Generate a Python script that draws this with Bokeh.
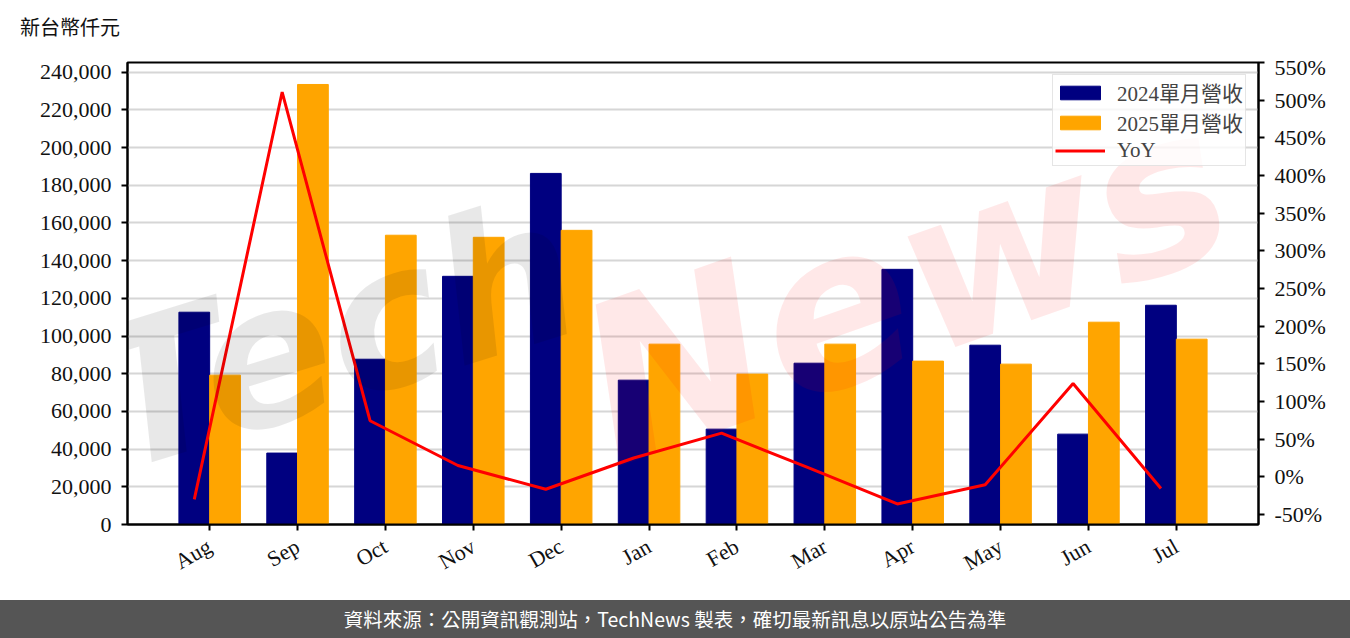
from bokeh.plotting import figure
from bokeh.models import (Range1d, LinearAxis, FixedTicker, NumeralTickFormatter,
                          PrintfTickFormatter, Legend, LegendItem, Label, ColumnDataSource, Div)
from bokeh.layouts import column
from bokeh.embed import file_html
from bokeh.resources import INLINE

months = ["Aug", "Sep", "Oct", "Nov", "Dec", "Jan", "Feb", "Mar", "Apr", "May", "Jun", "Jul"]
rev_2024 = [112650, 37900, 87700, 131700, 186300, 76600, 50600, 85600, 135400, 95150, 47950, 116350]
rev_2025 = [79250, 233500, 153500, 152400, 156100, 95700, 79800, 95700, 86700, 85100, 107350, 98350]
yoy = [-30, 511, 74.5, 15, -16.5, 25, 58, 11.5, -36, -10.5, 124, -15.5]

left_ticks = list(range(0, 240001, 20000))
right_ticks = list(range(-50, 551, 50))

SERIF = "'Liberation Serif', 'Noto Sans CJK TC'"
BW = 0.35
idx = list(range(len(months)))
src = ColumnDataSource(dict(
    x24=[i - BW / 2 for i in idx],
    x25=[i + BW / 2 for i in idx],
    r24=rev_2024, r25=rev_2025, yoy=yoy))

W = 1350
HEAD = 54
H = 600 - HEAD
FL, FR, FT, FB = 127, 1258, 62, 524   # frame edges in page pixels
p = figure(width=W, height=H, output_backend="svg", toolbar_location=None,
           x_range=Range1d(-0.935, 11.935), y_range=Range1d(0, 245160),
           min_border_left=FL, min_border_right=W - FR, min_border_top=FT - HEAD,
           min_border_bottom=600 - FB)
p.extra_y_ranges = {"yoy": Range1d(-63.3, 550.2)}

r1 = p.vbar(x="x24", top="r24", width=BW, source=src, color="#000080")
r2 = p.vbar(x="x25", top="r25", width=BW, source=src, color="#FFA500")
r3 = p.line(x="x24", y="yoy", source=src, color="#FF0000", line_width=3, y_range_name="yoy")

ax_r = LinearAxis(y_range_name="yoy")
p.add_layout(ax_r, "right")

p.xaxis.ticker = FixedTicker(ticks=idx)
p.xaxis.major_label_overrides = {i: m for i, m in enumerate(months)}
p.xaxis.major_label_orientation = 0.52
p.yaxis[0].ticker = FixedTicker(ticks=left_ticks)
p.yaxis[0].formatter = NumeralTickFormatter(format="0,0")
ax_r.ticker = FixedTicker(ticks=right_ticks)
ax_r.formatter = PrintfTickFormatter(format="%d%%")

for ax in p.axis:
    ax.axis_line_color = "black"
    ax.axis_line_width = 2
    ax.major_tick_line_color = "black"
    ax.major_tick_line_width = 2
    ax.major_tick_out = 6
    ax.major_tick_in = 0
    ax.minor_tick_line_color = None
    ax.major_label_text_font = SERIF
    ax.major_label_text_font_size = "22px"
    ax.major_label_text_color = "#111111"
    ax.major_label_standoff = 10
p.xaxis.major_label_standoff = 14

p.xgrid.grid_line_color = None
p.ygrid.grid_line_color = "#d6d6d6"
p.ygrid.grid_line_width = 2
p.outline_line_color = "black"
p.outline_line_width = 2
p.outline_line_alpha = 1

# watermark (frame-relative screen units)
p.add_layout(Label(x=5, y=8, x_units="screen", y_units="screen", text="Tech",
                   angle=0.3, text_font="DejaVu Sans", text_font_style="bold italic",
                   text_font_size="195px", text_color="black", text_alpha=0.09))
p.add_layout(Label(x=505, y=8, x_units="screen", y_units="screen", text="News",
                   angle=0.34, text_font="DejaVu Sans", text_font_style="bold italic",
                   text_font_size="220px", text_color="#FF0000", text_alpha=0.09))

legend = Legend(items=[LegendItem(label="2024單月營收", renderers=[r1]),
                       LegendItem(label="2025單月營收", renderers=[r2]),
                       LegendItem(label="YoY", renderers=[r3])],
                location="top_right", margin=12, padding=2, spacing=0,
                glyph_width=50, glyph_height=17, label_height=26,
                label_text_font=SERIF, label_text_font_size="21px",
                label_standoff=12,
                border_line_color="#cccccc", border_line_width=1.5,
                background_fill_alpha=0.8)
p.add_layout(legend)

header = Div(text="新台幣仟元", width=W, height=HEAD, margin=0,
             styles={"color": "#111111", "background-color": "white",
                     "font-family": "'Noto Sans CJK TC', sans-serif", "font-size": "20px",
                     "line-height": f"{HEAD}px", "padding-left": "20px",
                     "box-sizing": "border-box", "display": "block"})

footer = Div(text="資料來源：公開資訊觀測站，TechNews 製表，確切最新訊息以原站公告為準",
             width=W, height=38, margin=0,
             styles={"background-color": "#555555", "color": "white",
                     "font-family": "'Noto Sans CJK TC', sans-serif", "font-size": "19.5px",
                     "text-align": "center", "line-height": "38px",
                     "display": "block"})

layout = column(header, p, footer, spacing=0)
open("out.html", "w").write(file_html(layout, INLINE))
